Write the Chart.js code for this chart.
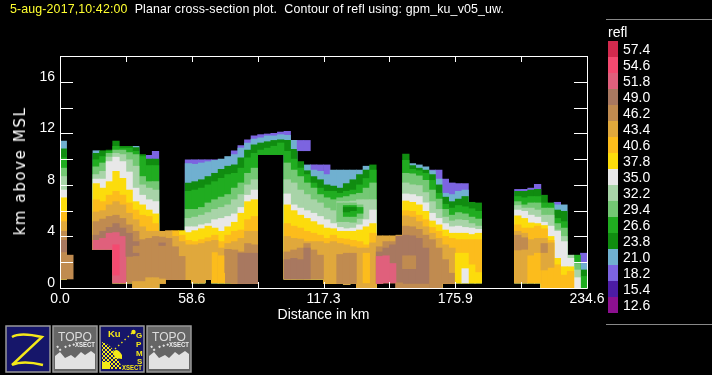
<!DOCTYPE html>
<html>
<head>
<meta charset="utf-8">
<title>refl cross-section</title>
<script src="https://cdn.jsdelivr.net/npm/chart.js@4"></script>
<style>
html,body{margin:0;padding:0;background:#000;overflow:hidden}
#wrap{position:relative;width:712px;height:375px;background:#000;font-family:"Liberation Sans",sans-serif;color:#fff}
#wrap canvas{position:absolute;left:0;top:0}
.txt{position:absolute;white-space:pre}
#head{left:10px;top:1px;font-size:12.4px;line-height:16px;letter-spacing:.13px}
#head b{font-weight:normal;color:#ffff30}
#ytitle{left:20px;top:171px;font:15px "DejaVu Sans",sans-serif;letter-spacing:1.6px;transform:translate(-50%,-50%) rotate(-90deg)}
.rule{position:absolute;left:606px;width:106px;height:1px;background:#888}
#legend{position:absolute;left:608px;top:41px}
.row{position:relative;height:16px;width:100px}
.sw{position:absolute;left:0;top:0;width:10px;height:16px}
.lb{position:absolute;left:15px;top:0;font-size:14px;line-height:16px}
#icons{position:absolute;left:5px;top:325px}
</style>
</head>
<body>
<div id="wrap">
<canvas id="plot" width="712" height="375"></canvas>
<div class="txt" id="head"><b>5-aug-2017,10:42:00</b>  Planar cross-section plot.  Contour of refl using: gpm_ku_v05_uw.</div>
<div class="txt" id="ytitle">km above MSL</div>
<div class="rule" style="top:19px"></div>
<div class="rule" style="top:324px"></div>
<div class="txt" style="left:608px;top:24px;font-size:14px;line-height:16px">refl</div>
<div id="legend"></div>
<svg id="icons" width="188" height="48" font-family="Liberation Sans,sans-serif">
  <defs>
    <pattern id="chk" width="4" height="4" patternUnits="userSpaceOnUse">
      <rect width="2" height="2" fill="#f4e818"/><rect x="2" y="2" width="2" height="2" fill="#f4e818"/>
    </pattern>
    <g id="topo">
      <path d="M50 44 V31 L55 27 L60 33 L66 30 L70 33 L76 27 L80 30 L86 26 L90 29 V44 Z" fill="#e2e2e2"/>
      <path d="M52 21 L56 26 M60 21 L62 24 M64 20 L66 22 M68 19 L70 21" stroke="#e2e2e2" stroke-width="2" stroke-dasharray="2 2"/>
      <text x="53" y="16" font-size="13" textLength="34" lengthAdjust="spacingAndGlyphs" fill="#ddd">TOPO</text>
      <text x="70" y="22" font-size="7" font-weight="bold" textLength="20" lengthAdjust="spacingAndGlyphs" fill="#eee">XSECT</text>
    </g>
  </defs>
  <g stroke="#999" stroke-width="1.5">
    <rect x="1" y="1" width="44" height="46" fill="#16166a"/>
    <rect x="48" y="1" width="44" height="46" fill="#666"/>
    <rect x="95" y="1" width="44" height="46" fill="#16166a"/>
    <rect x="142" y="1" width="44" height="46" fill="#666"/>
  </g>
  <path d="M7 12 Q15 7 37 12 L7 40 Q18 35 38 40" fill="none" stroke="#f4e818" stroke-width="2.4"/>
  <use href="#topo"/>
  <use href="#topo" transform="translate(94,0)"/>
  <path d="M97 44 V17 Q110 20 117 44 Z" fill="url(#chk)"/>
  <path d="M108 27 Q112 22 117 30 L117 34 L110 33 Z M97 44 V37 H105 V44 Z" fill="#f4e818"/>
  <path d="M110 24 L128 7" stroke="#f4e818" stroke-width="1.4" stroke-dasharray="1.4 3"/>
  <circle cx="128.5" cy="7" r="2.2" fill="#f4e818"/>
  <text x="103" y="12" font-size="9.5" font-weight="bold" fill="#f4e818">Ku</text>
  <text x="131" y="13" font-size="8" font-weight="bold" fill="#f4e818">G</text>
  <text x="131" y="22" font-size="8" font-weight="bold" fill="#f4e818">P</text>
  <text x="131" y="31" font-size="8" font-weight="bold" fill="#f4e818">M</text>
  <text x="132" y="39" font-size="8" font-weight="bold" fill="#f4e818">S</text>
  <text x="117" y="45" font-size="7" font-weight="bold" textLength="20" lengthAdjust="spacingAndGlyphs" fill="#f4e818">XSECT</text>
</svg>
</div>
<script>
// colour levels, bottom of the legend first
const bandLevels = [12.6,15.4,18.2,21.0,23.8,26.6,29.4,32.2,35.0,37.8,40.6,43.4,46.2,49.0,51.8,54.6,57.4];
const bandColors = ["#8c1090","#4c1ca4","#7c64e0","#70b0d0","#108c10","#20ac20","#74c874","#a8d4a8","#e8e8e8","#fcdc0c","#fcbc1c","#e0a83c","#c08b50","#a87860","#e0607c","#f44a70","#d32a4e"];
const xTickValues = [0,29.325,58.65,87.975,117.3,146.625,175.95,205.275,234.6];
const xTickLabels = ["0.0","","58.6","","117.3","","175.9","","234.6"];
const yTickValues = [0,2,4,6,8,10,12,14,16,18];
const yTickLabels = ["0","","4","","8","","12","","16",""];
const columnWidth = 2.9325; // km

const n = null;
// one row per column: floor, then the top (km) of 18.2 21 23.8 26.6 29.4 32.2 35 37.8 40.6 43.4 46.2 49
const topLevels = [18.2,21.0,23.8,26.6,29.4,32.2,35.0,37.8,40.6,43.4,46.2,49.0];
const columnTops = [
[.7,n,11.4,10.8,10.1,9.3,8.65,7.6,7,5.9,5.15,4.4,n],
[.7,n,n,n,n,n,n,n,n,n,n,2.55,n],
n,n,n,
[3,n,10.65,10.45,9.95,9.4,8.8,8.45,8.1,6.85,5.9,5.15,4.1],
[3,n,n,10.65,10.2,9.7,9.05,8.45,7.75,6.7,6,5.35,4.4],
[3,n,n,10.7,10.6,10.45,10.15,9.8,8.25,7.2,6.45,5.55,4.7],
[.4,n,n,11.4,11,10.7,10.45,10.15,9.05,7.5,6.7,5.65,5],
[.4,n,n,11,10.85,10.7,10.35,9.8,8.5,7.2,6.45,5.4,4.65],
[.4,n,n,11,10.85,10.5,9.95,9,7.6,6.6,5.8,4.9,n],
[0,n,11,10.9,10.6,10.35,9.45,7.75,6.7,6.05,5.3,4.4,n],
[0,n,n,10.35,10.2,8.65,8,7.2,6.45,5.65,4.75,3.75,n],
[0,10.3,n,10,9.5,8.25,7.75,6.85,6.05,5.55,4.4,3.85,n],
[0,10.6,n,10,9.5,8.25,7.6,6.7,5.75,5,4.4,4,n],
[.35,n,n,n,n,n,n,n,n,n,4.4,3.95,n],
[.65,n,n,n,n,n,n,n,n,n,4.45,3.85,n],
[.65,n,n,n,n,n,n,n,n,4.45,4,3.2,n],
[.65,n,n,n,n,n,n,n,4.45,4.1,3.6,2.45,n],
[.65,9.95,9.65,8.15,7.5,6.1,5.4,4.75,4.3,3.7,3.35,n,n],
[.4,9.95,9.6,8.25,7.6,6.1,5.5,4.75,4.45,3.6,3.35,n,n],
[.4,9.95,9.7,8.4,7.75,6.25,5.65,4.9,4.6,3.75,3.45,n,n],
[.65,9.95,9.8,8.65,8,6.6,5.85,5,4.8,3.9,3.6,n,n],
[.4,9.95,9.9,8.9,8.25,6.85,6.1,5.3,4.65,4.1,n,n,n],
[.4,n,10,9.2,8.5,7.05,6.25,5.4,4.4,3.6,3.1,n,n],
[.4,n,10.2,9.45,8.8,7.25,6.45,5.55,4.75,4.1,3.45,2.95,n],
[.35,10.65,10.35,9.55,8.9,7.75,6.85,5.75,5.1,4.4,3.6,2.95,n],
[.35,11.05,10.85,10.1,9.3,8.15,7.25,6.25,5.8,4.5,3.85,2.8,2.7],
[.35,11.5,11.25,10.7,10.1,8.9,8,7.2,6.7,5.3,4.4,3.45,2.7],
[.35,11.8,11.55,11.1,10.45,9.3,8.4,7.6,6.85,5.55,4.4,3.35,2.7],
[10.35,11.9,11.65,11.25,10.7,n,n,n,n,n,n,n,n],
[10.35,11.95,11.8,11.35,10.85,n,n,n,n,n,n,n,n],
[10.35,12,11.8,11.45,11,n,n,n,n,n,n,n,n],
[10.35,12.1,11.9,11.5,11.25,n,n,n,n,n,n,n,n],
[.7,12.15,11.85,11.45,10.6,9.7,8.4,7.3,6.45,5,4,2.8,2.2],
[.7,n,11.45,10.75,10,9.15,8.15,6.45,6,4.8,3.85,2.95,2.3],
[.7,n,n,9.8,9.3,8.65,7.6,6.2,5.65,4.65,3.8,3.1,2.2],
[.7,n,9.55,9.1,8.8,8.15,7.25,6,5.4,4.4,3.6,3.45,3.1],
[.7,9.55,9.15,8.65,8.15,7.75,6.85,5.8,5.15,4.25,3.6,2.95,n],
[.7,9.55,9.05,8.4,7.75,7.25,6.6,5.55,4.9,4.1,3.6,2.55,n],
[.35,9.55,8.8,8,7.5,7,6.2,5.3,4.65,3.85,3.45,n,n],
[.35,n,9.15,7.9,7.5,6.85,6,5,4.6,4.1,3.6,n,n],
[.35,n,9.15,7.75,7.35,7,6.7,4.7,4.4,3.85,3.45,2.6,n],
[.3,n,9.15,8.1,7.5,7.1,6.7,4.6,4.4,3.8,3.35,2.7,n],
[.35,n,9.15,8.4,7.6,7.25,6.75,4.65,4.4,3.7,3.2,2.7,n],
[0,n,9.15,8.8,8,7.35,6.85,4.9,4.5,3.6,3.1,n,n],
[0,n,9.45,9.15,8.5,7.75,6.85,5.3,4.75,3.35,3.1,n,n],
[0,n,n,9.55,9.15,8.15,6.85,6.05,5,4.25,3.5,n,n],
[.35,n,n,n,n,n,n,n,n,n,4.05,3.2,2.8],
[.4,n,n,n,n,n,n,n,n,n,4.05,3.6,3.1],
[.4,n,n,n,n,n,n,n,n,n,4.05,3.6,3.35],
[0,n,n,n,n,n,n,n,n,n,4.1,4.05,4],
[0,n,n,10.4,9.9,8.9,8.15,7.3,6.75,6,5.6,4.8,4.1],
[0,n,9.65,9.5,9.2,8.85,8,7.25,6.65,5.95,5.5,4.75,4.05],
[0,n,9.55,9.3,9.1,8.7,7.95,7.1,6.45,5.65,5.15,4.55,3.85],
[0,n,9.4,9.15,8.9,8.35,7.4,6.6,5.95,5.3,4.75,4.1,3.1],
[0,9.15,9.1,8.8,8.35,7.6,6.7,5.8,5.2,4.7,4.25,3.75,n],
[0,9.15,8.45,8,7.35,6.9,6.1,5.4,4.9,4.4,3.85,3.1,n],
[.35,8.45,7.35,7.05,6.5,6.1,5.5,5,4.5,4,3.35,2.2,n],
[.35,8.15,7.25,6.7,6.2,5.65,5.2,4.75,4.25,3.85,3.1,1.15,n],
[.4,8.1,7.5,6.9,6.4,5.85,5.3,4.8,4.25,3.75,n,n,n],
[.4,8.1,7.6,7.1,6.3,5.75,5.25,4.7,4.25,3.75,n,n,n],
[.4,n,n,6.65,6.15,5.5,5,4.65,4.15,3.75,n,n,n],
[.4,n,n,6.6,5.95,5.35,4.8,4.55,4.25,3.75,n,n,n],
n,n,n,n,n,
[.4,7.65,n,7.5,7.1,6.7,6.4,6.05,5.6,4.9,4.4,n,n],
[.4,7.65,n,7.5,7,6.45,6.2,5.95,5.4,4.65,4.25,n,n],
[.4,7.75,n,7.6,7.1,6.6,6.2,5.65,5.05,4.65,3.75,n,n],
[.4,8.05,n,7.65,7.1,6.6,6.05,5.5,5,4.8,3.85,n,n],
[0,n,n,7.2,6.6,6.2,5.65,5.1,4.85,4.6,n,n,n],
[0,n,n,n,6.6,6.2,5.65,4.8,4,3.7,n,n,n],
[0,6.65,6.45,6.05,5.4,5,4.5,4.4,2.3,1.8,n,n,n],
[0,n,6.45,5.95,5.15,4.65,4,3.6,1.65,1,n,n,n],
[0,n,n,n,n,n,2.55,2.3,1.65,1.3,n,n,n],
[0,n,n,n,2.55,1.9,1.4,.8,n,n,n,n,n],
[0,2.7,1.9,1.4,.9,n,n,n,n,n,n,n,n]
];
// closed cells painted over the columns, in this order: level, first column, then [low, high] per column
const cells = [
[49.0,0,[2.8,3.7]],
[51.8,5,[3,3.7],[3,3.85],[3,4.25],[.4,4.3],[.4,4]],
[54.6,8,[1,3.35]],
[49.0,10,[2.45,4.25],[2.5,2.7]],
[49.0,11,[3.3,3.6]],
[43.4,11,[0,.5],[0,.5],[0,.8],[0,.8],[.35,.7]],
[49.0,15,[3.3,3.5]],
[43.4,23,[2.8,3.7]],
[40.6,24,[.4,2.5]],
[46.2,25,[1.2,3]],
[18.2,36,[10.65,11.45],[10.65,11.45]],
[29.4,42,[5.15,6.6],[5.15,6.6],[5.1,6.6],[5.4,6.45]],
[26.6,43,[5.55,6.4],[5.55,6.4],[5.8,6.25]],
[23.8,43,[5.9,6.25],[6,6.25]],
[40.6,46,[.4,2.7]],
[51.8,48,[.35,2.45],[.4,2.5],[.4,1.9]],
[46.2,51,[0,.4],[0,.3],[0,.3],[0,.3],[0,.3]],
[46.2,52,[1.5,2.5],[1.5,2.5]],
[37.8,60,[.4,2.7],[.4,2.7],[.4,1.8],[.4,1.2]],
[35.0,61,[.4,1.5]],
[46.2,69,[2.95,4.1],[3,3.9]],
[40.6,71,[.4,2.5],[.4,2.7]],
[43.4,73,[1.4,3.85],[1.6,3.5]],
[46.2,73,[2.75,3.45]]
];

function colorOf(level){
    return bandColors[bandLevels.indexOf(level)];
}
function centerOf(col){
    return columnWidth*(col+0.5);
}
function barSet(level,pts){
    return {label:String(level), data:pts, backgroundColor:colorOf(level), grouped:false, barPercentage:1, categoryPercentage:1};
}

var sets = [];
topLevels.forEach(function(level,b){
    var pts = [];
    columnTops.forEach(function(row,col){
        if(row && row[b+1] !== null) pts.push({x:centerOf(col), y:[row[0],row[b+1]]});
    });
    sets.push(barSet(level,pts));
});
cells.forEach(function(c){
    var pts = [];
    for(let i=2;i<c.length;i++) pts.push({x:centerOf(c[1]+i-2), y:c[i]});
    sets.push(barSet(c[0],pts));
});
// chart.js paints the first dataset last
sets.reverse();

const frameTicks = {
    id:"frameTicks",
    afterDraw(chart){
        const a = chart.chartArea, c = chart.ctx;
        const sx = chart.scales.x, sy = chart.scales.y;
        c.save();
        c.strokeStyle = "#fff";
        c.lineWidth = 1;
        c.beginPath();
        c.rect(a.left+.5,a.top+.5,a.width,a.height);
        xTickValues.forEach(function(v){
            let p = Math.round(sx.getPixelForValue(v))+.5;
            c.moveTo(p,a.bottom); c.lineTo(p,a.bottom-6);
            c.moveTo(p,a.top); c.lineTo(p,a.top+6);
        });
        yTickValues.forEach(function(v){
            let p = Math.round(sy.getPixelForValue(v))+.5;
            c.moveTo(a.left,p); c.lineTo(a.left+13,p);
            c.moveTo(a.right,p); c.lineTo(a.right-13,p);
        });
        c.stroke();
        c.restore();
    }
};

new Chart(document.getElementById("plot"),{
    type:"bar",
    data:{datasets:sets},
    plugins:[frameTicks],
    options:{
        responsive:false,
        animation:false,
        layout:{padding:{left:8,top:56,right:125,bottom:51}},
        plugins:{legend:{display:false},tooltip:{enabled:false},title:{display:false}},
        scales:{
            x:{
                type:"linear",min:0,max:234.6,offset:false,
                grid:{display:false,drawTicks:false},border:{display:false},
                afterBuildTicks(s){s.ticks = xTickValues.map(function(v){return {value:v};});},
                afterFit(s){s.height = 36;},
                title:{display:true,text:"Distance in km",color:"#fff",padding:0,font:{family:"Liberation Sans",size:14}},
                ticks:{color:"#fff",maxRotation:0,autoSkip:false,padding:3,font:{family:"Liberation Sans",size:14},
                    callback(v,i){return xTickLabels[i];}}
            },
            y:{
                min:0,max:18,
                grid:{display:false,drawTicks:false},border:{display:false},
                afterBuildTicks(s){s.ticks = yTickValues.map(function(v){return {value:v};});},
                afterFit(s){s.width = 52;},
                ticks:{color:"#fff",autoSkip:false,padding:5,labelOffset:-5,font:{family:"Liberation Sans",size:14},
                    callback(v,i){return yTickLabels[i];}}
            }
        }
    }
});

// colour key, top level first
var lg = document.getElementById("legend");
for(let i=bandLevels.length-1;i>=0;i--){
    var r = document.createElement("div");
    r.className = "row";
    r.innerHTML = '<div class="sw" style="background:'+bandColors[i]+'"></div><div class="lb">'+bandLevels[i].toFixed(1)+'</div>';
    lg.appendChild(r);
}
</script>
</body>
</html>
